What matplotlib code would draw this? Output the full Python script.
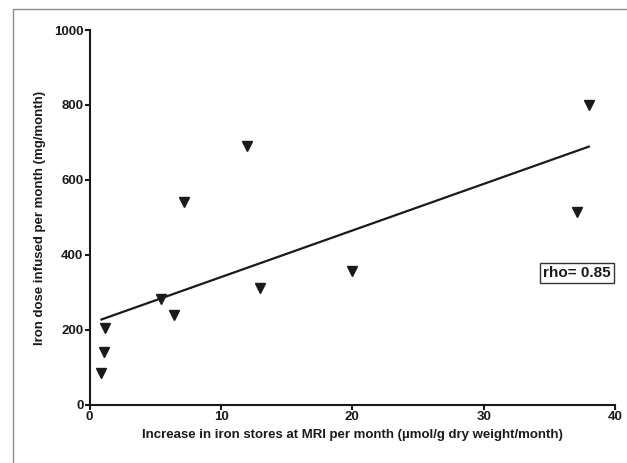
import matplotlib

matplotlib.use("Agg")
import matplotlib.pyplot as plt  # noqa: E402
from matplotlib.patches import Rectangle  # noqa: E402

plt.rcParams["font.family"] = ["Liberation Sans", "DejaVu Sans"]

# data
iron_increase = [0.9, 1.1, 1.2, 5.4, 6.4, 7.2, 12.0, 13.0, 20.0, 37.1, 38.0]
iron_dose = [85, 140, 206, 283, 240, 540, 691, 311, 358, 515, 801]

fit_x = [0.9, 38.0]
fit_y = [228, 689]

x_ticks = [0, 10, 20, 30, 40]
y_ticks = [0, 200, 400, 600, 800, 1000]

ink = "#1a1a1a"

fig = plt.figure(figsize=(6.27, 4.63), dpi=100)
ax = fig.add_axes([0.143, 0.1253, 0.838, 0.8099])

ax.plot(iron_increase, iron_dose, linestyle="none", marker="v",
        markersize=7.5, color=ink, clip_on=False)
ax.plot(fit_x, fit_y, color=ink, linewidth=1.6)

ax.set_xlim(0, 40)
ax.set_ylim(0, 1000)
ax.set_xticks(x_ticks)
ax.set_yticks(y_ticks)

for side in ("top", "right"):
    ax.spines[side].set_visible(False)
for side in ("left", "bottom"):
    ax.spines[side].set_linewidth(1.5)
    ax.spines[side].set_color(ink)
ax.tick_params(direction="out", length=3.5, width=1.5, color=ink,
               labelcolor=ink, labelsize=9.5, pad=1)
for lbl in ax.get_xticklabels() + ax.get_yticklabels():
    lbl.set_fontweight("bold")

ax.set_xlabel("Increase in iron stores at MRI per month (\u00b5mol/g dry weight/month)",
              fontsize=9.5, fontweight="bold", color=ink, labelpad=4)
ax.set_ylabel("Iron dose infused per month (mg/month)",
              fontsize=9.5, fontweight="bold", color=ink, labelpad=6)

ax.text(37.1, 352, "rho= 0.85", ha="center", va="center",
        fontsize=11, fontweight="bold", color=ink,
        bbox=dict(boxstyle="square,pad=0.22", facecolor="white",
                  edgecolor="#333333", linewidth=1))

# light frame around the panel (left and top edges visible)
fig.add_artist(Rectangle((12.5 / 627, -0.05), 1.2, 1 - 8.5 / 463 + 0.05,
                         transform=fig.transFigure, fill=False,
                         edgecolor="#8a8a8a", linewidth=1))

fig.savefig("out.png", dpi=100)
plt.close(fig)
